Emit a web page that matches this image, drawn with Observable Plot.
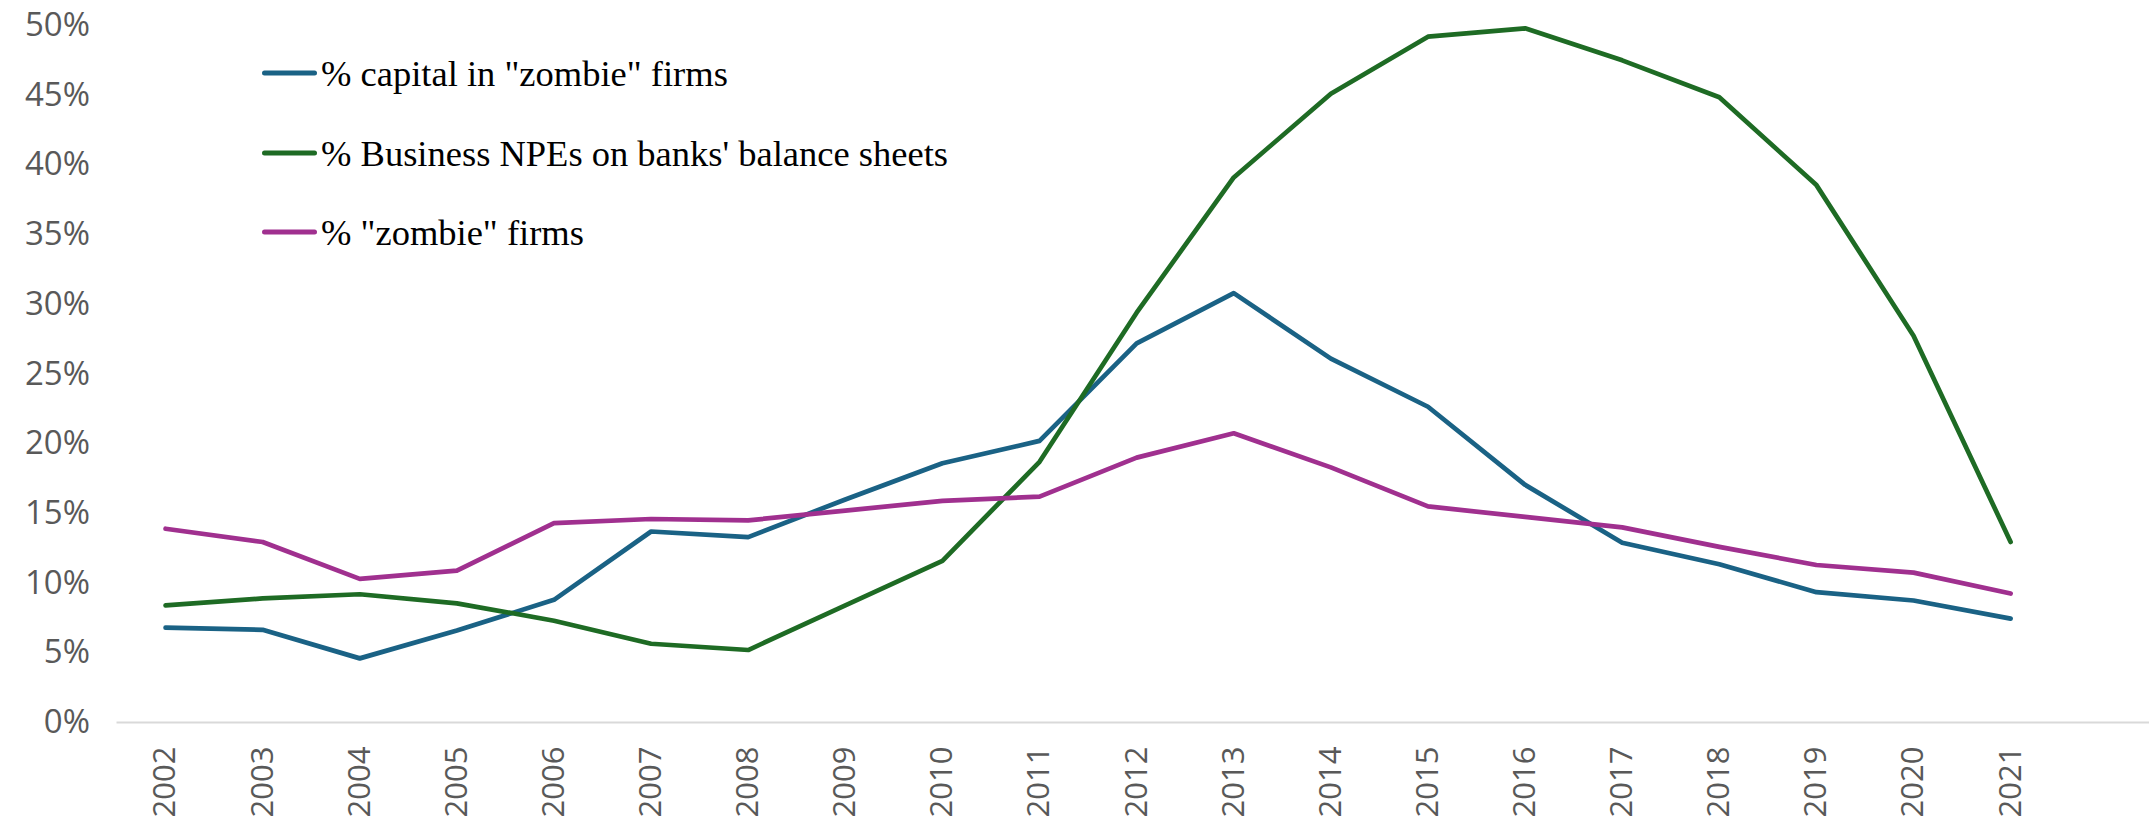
<!DOCTYPE html>
<html>
<head>
<meta charset="utf-8">
<script src="https://cdn.jsdelivr.net/npm/d3@7"></script>
<script src="https://cdn.jsdelivr.net/npm/@observablehq/plot@0.6"></script>
<style>
  html, body { margin: 0; padding: 0; background: #fff; }
  #wrap { position: relative; width: 2149px; height: 823px; overflow: hidden; }
  #wrap svg { display: block; }
  #legend { position: absolute; left: 262px; top: 0; font-family: "Liberation Serif", serif; font-size: 36.5px; color: #000; }
  .item { position: absolute; display: flex; align-items: center; white-space: nowrap; transform: translateY(-50%); }
  .sw { width: 55px; height: 5px; border-radius: 3px; margin-right: 4px; }
</style>
</head>
<body>
<div id="wrap"><div id="legend"></div></div>
<script>
const years = [2002, 2003, 2004, 2005, 2006, 2007, 2008, 2009, 2010, 2011, 2012, 2013, 2014, 2015, 2016, 2017, 2018, 2019, 2020, 2021];
const seriesNames = ['% capital in "zombie" firms', "% Business NPEs on banks' balance sheets", '% "zombie" firms'];
const seriesColors = ["#1a6285", "#1e6b24", "#a0308f"];
const capitalZombie = [6.8, 6.65, 4.6, 6.6, 8.8, 13.7, 13.3, 16.0, 18.6, 20.2, 27.2, 30.8, 26.1, 22.65, 17.05, 12.9, 11.35, 9.35, 8.75, 7.45];
const businessNPEs = [8.4, 8.9, 9.2, 8.55, 7.3, 5.65, 5.2, 8.4, 11.6, 18.7, 29.4, 39.1, 45.1, 49.2, 49.8, 47.5, 44.85, 38.55, 27.75, 12.95];
const zombieFirms = [13.9, 12.95, 10.3, 10.9, 14.3, 14.6, 14.5, 15.2, 15.9, 16.2, 19.0, 20.75, 18.3, 15.5, 14.75, 14.0, 12.6, 11.3, 10.75, 9.25];
const yTicks = [0, 5, 10, 15, 20, 25, 30, 35, 40, 45, 50];
const legendRows = [73, 153, 232];

const allSeries = [capitalZombie, businessNPEs, zombieFirms];
const data = [];
allSeries.forEach((vals, i) => vals.forEach((v, j) => data.push({year: years[j], value: v, series: seriesNames[i]})));

const chart = Plot.plot({
  width: 2149,
  height: 823,
  marginTop: 25,
  marginBottom: 101,
  marginLeft: 116.5,
  marginRight: 0,
  style: {fontFamily: "'Open Sans', sans-serif", color: "#595959", background: "#fff"},
  x: {domain: [2001.5, 2022.43]},
  y: {domain: [0, 50]},
  color: {domain: seriesNames, range: seriesColors},
  marks: [
    Plot.ruleY([0], {stroke: "#d9d9d9", strokeWidth: 2}),
    Plot.axisY({ticks: yTicks, tickFormat: d => d + "%", tickSize: 0, tickPadding: 27, fontSize: 33, label: null}),
    Plot.axisX({ticks: years, tickFormat: d => String(d), tickSize: 0, tickPadding: 24, tickRotate: -90, fontSize: 31, label: null}),
    Plot.line(data, {x: "year", y: "value", z: "series", stroke: "series", strokeWidth: 4.7, strokeLinejoin: "round", strokeLinecap: "round"})
  ]
});
document.getElementById("wrap").prepend(chart);

const legend = document.getElementById("legend");
seriesNames.forEach((name, i) => {
  const it = document.createElement("div");
  it.className = "item";
  it.style.top = legendRows[i] + "px";
  const sw = document.createElement("span");
  sw.className = "sw";
  sw.style.background = seriesColors[i];
  const tx = document.createElement("span");
  tx.textContent = name;
  it.appendChild(sw);
  it.appendChild(tx);
  legend.appendChild(it);
});
</script>
</body>
</html>
